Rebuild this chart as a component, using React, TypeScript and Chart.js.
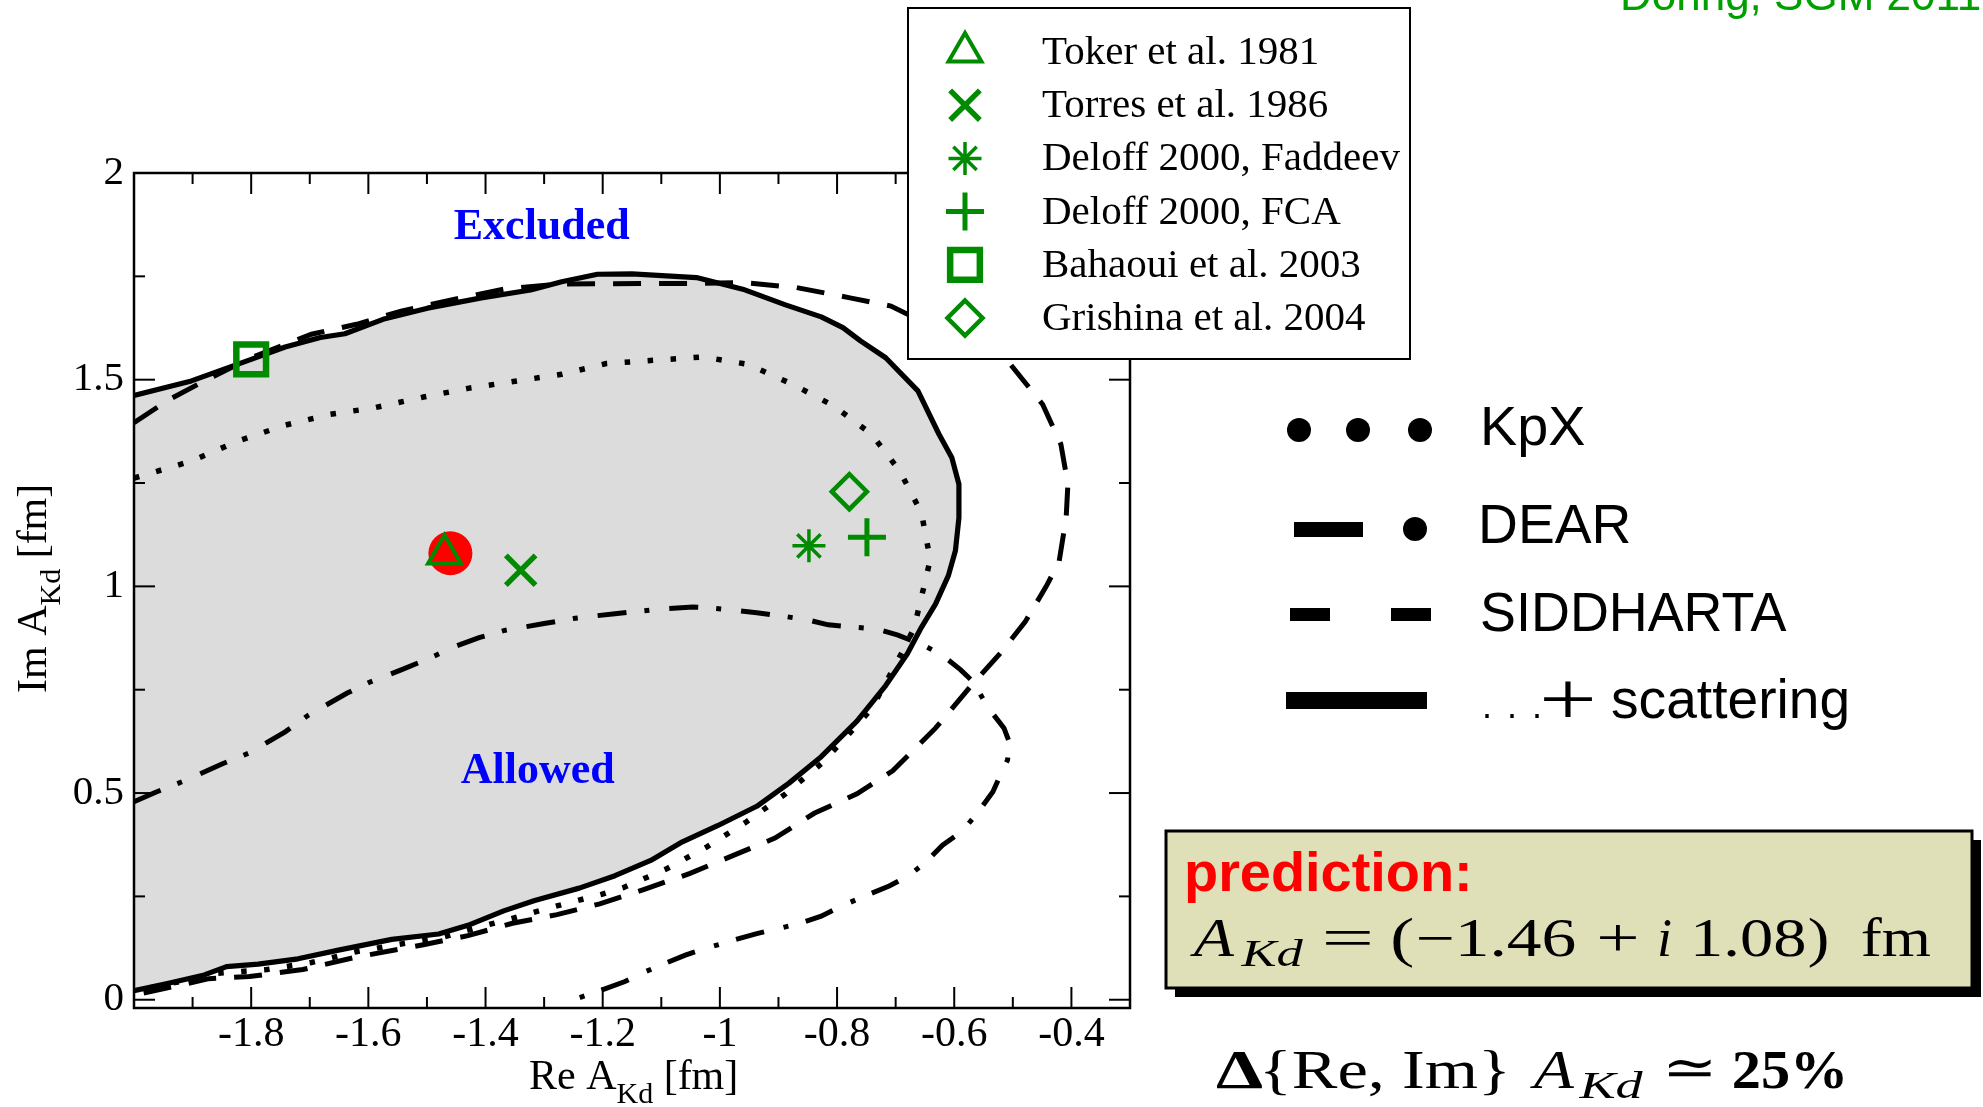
import React, { useEffect, useRef } from 'react';
import { Chart, registerables } from 'chart.js';

Chart.register(...registerables);

// ---------------- data ----------------
const X_RANGE = [-2, -0.3];
const Y_RANGE = [-0.02, 2];
const X_MAJOR = [-1.8, -1.6, -1.4, -1.2, -1.0, -0.8, -0.6, -0.4];
const X_MINOR = [-1.9, -1.7, -1.5, -1.3, -1.1, -0.9, -0.7, -0.5];
const Y_MAJOR = [0, 0.5, 1, 1.5, 2];
const Y_MINOR = [0.25, 0.75, 1.25, 1.75];

// "... + scattering" contour (solid, filled allowed region)
const SCATTERING = [
  [-2.0, 1.462], [-1.902, 1.497], [-1.8, 1.549], [-1.742, 1.579], [-1.682, 1.602], [-1.64, 1.611],
  [-1.575, 1.646], [-1.499, 1.673], [-1.407, 1.698], [-1.323, 1.717], [-1.27, 1.737], [-1.209, 1.755],
  [-1.15, 1.756], [-1.04, 1.747], [-0.961, 1.719], [-0.888, 1.681], [-0.827, 1.652], [-0.79, 1.626],
  [-0.76, 1.594], [-0.717, 1.553], [-0.662, 1.473], [-0.626, 1.368], [-0.604, 1.311], [-0.592, 1.247],
  [-0.592, 1.166], [-0.598, 1.086], [-0.61, 1.026], [-0.632, 0.957], [-0.656, 0.901], [-0.68, 0.837],
  [-0.717, 0.76], [-0.766, 0.674], [-0.827, 0.588], [-0.882, 0.524], [-0.937, 0.468], [-1.004, 0.421],
  [-1.064, 0.382], [-1.118, 0.337], [-1.179, 0.3], [-1.24, 0.27], [-1.316, 0.24], [-1.369, 0.215],
  [-1.43, 0.18], [-1.48, 0.159], [-1.56, 0.146], [-1.651, 0.12], [-1.72, 0.099], [-1.788, 0.086],
  [-1.842, 0.08], [-1.88, 0.06], [-1.941, 0.04], [-2.0, 0.022],
];

// SIDDHARTA contour (dashed)
const SIDDHARTA = [
  [-2.0, 1.396], [-1.94, 1.452], [-1.88, 1.497], [-1.8, 1.553], [-1.697, 1.61], [-1.62, 1.634],
  [-1.544, 1.666], [-1.468, 1.69], [-1.369, 1.719], [-1.278, 1.731], [-1.202, 1.732], [-1.049, 1.733],
  [-0.961, 1.735], [-0.87, 1.723], [-0.778, 1.698], [-0.708, 1.678], [-0.504, 1.537], [-0.449, 1.44],
  [-0.418, 1.344], [-0.406, 1.247], [-0.409, 1.166], [-0.421, 1.06], [-0.443, 1.0], [-0.479, 0.914],
  [-0.522, 0.837], [-0.571, 0.76], [-0.632, 0.657], [-0.705, 0.554], [-0.766, 0.498], [-0.839, 0.451],
  [-0.906, 0.391], [-0.979, 0.348], [-1.052, 0.305], [-1.129, 0.267], [-1.205, 0.232], [-1.278, 0.206],
  [-1.354, 0.185], [-1.43, 0.155], [-1.506, 0.133], [-1.621, 0.103], [-1.712, 0.073], [-1.803, 0.056],
  [-1.872, 0.051], [-1.925, 0.034], [-2.0, 0.011],
];

// KpX contour (dotted)
const KPX = [
  [-2.0, 1.262], [-1.902, 1.303], [-1.822, 1.352], [-1.742, 1.39], [-1.666, 1.416], [-1.59, 1.432],
  [-1.506, 1.458], [-1.43, 1.479], [-1.346, 1.497], [-1.27, 1.513], [-1.194, 1.539], [-1.113, 1.547],
  [-1.028, 1.555], [-0.952, 1.537], [-0.876, 1.489], [-0.805, 1.436], [-0.741, 1.368], [-0.693, 1.279],
  [-0.656, 1.178], [-0.641, 1.065], [-0.65, 1.009], [-0.659, 0.957], [-0.668, 0.901], [-0.687, 0.846],
  [-0.705, 0.798], [-0.741, 0.704], [-0.784, 0.636], [-0.827, 0.571], [-0.888, 0.498], [-0.955, 0.43],
  [-1.022, 0.37], [-1.089, 0.318], [-1.165, 0.271], [-1.202, 0.255], [-1.278, 0.227], [-1.354, 0.197],
  [-1.415, 0.174], [-1.476, 0.15], [-1.544, 0.135], [-1.621, 0.116], [-1.697, 0.09], [-1.773, 0.073],
  [-1.857, 0.064], [-1.925, 0.043], [-2.0, 0.021],
];

// DEAR contour (dash-dot)
const DEAR = [
  [-2.0, 0.479], [-1.963, 0.502], [-1.91, 0.532], [-1.849, 0.571], [-1.803, 0.597], [-1.742, 0.648],
  [-1.704, 0.687], [-1.636, 0.742], [-1.598, 0.768], [-1.544, 0.798], [-1.499, 0.824], [-1.453, 0.854],
  [-1.411, 0.876], [-1.369, 0.893], [-1.3, 0.91], [-1.247, 0.923], [-1.179, 0.934], [-1.102, 0.945],
  [-1.046, 0.95], [-1.01, 0.947], [-0.973, 0.942], [-0.937, 0.936], [-0.888, 0.927], [-0.851, 0.919],
  [-0.815, 0.907], [-0.769, 0.901], [-0.732, 0.897], [-0.696, 0.882], [-0.653, 0.858], [-0.62, 0.833],
  [-0.589, 0.798], [-0.567, 0.768], [-0.543, 0.708], [-0.515, 0.657], [-0.506, 0.623], [-0.509, 0.58],
  [-0.518, 0.554], [-0.534, 0.503], [-0.561, 0.451], [-0.586, 0.408], [-0.62, 0.374], [-0.65, 0.331],
  [-0.677, 0.301], [-0.711, 0.275], [-0.754, 0.25], [-0.79, 0.228], [-0.827, 0.202], [-0.863, 0.185],
  [-0.9, 0.172], [-0.937, 0.16], [-0.982, 0.142], [-1.022, 0.125], [-1.059, 0.108], [-1.095, 0.087],
  [-1.132, 0.065], [-1.162, 0.044], [-1.205, 0.022], [-1.25, 0.0],
];

// literature / prediction points
const PREDICTION = [[-1.46, 1.08]];
const TOKER = [[-1.47, 1.078]];
const TORRES = [[-1.34, 1.039]];
const DELOFF_FADDEEV = [[-0.848, 1.098]];
const DELOFF_FCA = [[-0.749, 1.119]];
const BAHAOUI = [[-1.8, 1.549]];
const GRISHINA = [[-0.779, 1.229]];

const REF_LABELS = [
  'Toker et al. 1981',
  'Torres et al. 1986',
  'Deloff 2000, Faddeev',
  'Deloff 2000, FCA',
  'Bahaoui et al. 2003',
  'Grishina et al. 2004',
];
const STYLE_LABELS = ['KpX', 'DEAR', 'SIDDHARTA', 'scattering'];

// ---------------- styles ----------------
const GREEN = '#008b00';
const GREY = '#dcdcdc';
const SERIF = '"Liberation Serif", "Times New Roman", serif';
const SANS = '"Liberation Sans", Arial, sans-serif';

const MARKERS = [
  { data: TOKER, style: 'triangle', r: 19, w: 4 },
  { data: TORRES, style: 'crossRot', r: 21, w: 5.5 },
  { data: DELOFF_FADDEEV, style: 'star', r: 16.5, w: 3.5 },
  { data: DELOFF_FCA, style: 'cross', r: 19, w: 5 },
  { data: BAHAOUI, style: 'rect', r: 21, w: 6.5 },
  { data: GRISHINA, style: 'rectRot', r: 17.5, w: 4.5 },
];

const toXY = (pts: number[][]) => pts.map(([x, y]) => ({ x, y }));
const fmt = (v: number) => String(Math.round(v * 10) / 10);

function drawMarker(ctx: CanvasRenderingContext2D, style: string, x: number, y: number, r: number, w: number) {
  ctx.save();
  ctx.strokeStyle = GREEN;
  ctx.lineWidth = w;
  ctx.beginPath();
  const q = Math.SQRT1_2 * r;
  if (style === 'triangle') {
    for (let i = 0; i < 3; i++) {
      const a = (i * 2 * Math.PI) / 3;
      const px = x + Math.sin(a) * r;
      const py = y - Math.cos(a) * r;
      if (i === 0) ctx.moveTo(px, py); else ctx.lineTo(px, py);
    }
    ctx.closePath();
  } else if (style === 'crossRot') {
    ctx.moveTo(x - q, y - q); ctx.lineTo(x + q, y + q);
    ctx.moveTo(x - q, y + q); ctx.lineTo(x + q, y - q);
  } else if (style === 'star') {
    ctx.moveTo(x, y - r); ctx.lineTo(x, y + r);
    ctx.moveTo(x - r, y); ctx.lineTo(x + r, y);
    ctx.moveTo(x - q, y - q); ctx.lineTo(x + q, y + q);
    ctx.moveTo(x - q, y + q); ctx.lineTo(x + q, y - q);
  } else if (style === 'cross') {
    ctx.moveTo(x, y - r); ctx.lineTo(x, y + r);
    ctx.moveTo(x - r, y); ctx.lineTo(x + r, y);
  } else if (style === 'rect') {
    ctx.rect(x - q, y - q, 2 * q, 2 * q);
  } else if (style === 'rectRot') {
    ctx.moveTo(x, y - r); ctx.lineTo(x + r, y); ctx.lineTo(x, y + r); ctx.lineTo(x - r, y);
    ctx.closePath();
  }
  ctx.stroke();
  ctx.restore();
}

// draw text so that its ink spans [x, x+width] (horizontal scaling), baseline y
function fitText(ctx: CanvasRenderingContext2D, text: string, x: number, y: number, width: number | null, font: string, color: string) {
  ctx.save();
  ctx.font = font;
  ctx.fillStyle = color;
  ctx.textAlign = 'left';
  ctx.textBaseline = 'alphabetic';
  const m = ctx.measureText(text);
  const ink = m.actualBoundingBoxLeft + m.actualBoundingBoxRight;
  const sx = width ? width / ink : 1;
  ctx.translate(x + m.actualBoundingBoxLeft * sx, y);
  ctx.scale(sx, 1);
  ctx.fillText(text, 0, 0);
  ctx.restore();
}

function drawAxisTitle(ctx: CanvasRenderingContext2D, main: string, sub: string, tail: string) {
  ctx.font = `42px ${SERIF}`;
  ctx.fillText(main, 0, 0);
  let w = ctx.measureText(main).width;
  ctx.font = `30px ${SERIF}`;
  ctx.fillText(sub, w, 14);
  w += ctx.measureText(sub).width;
  ctx.font = `42px ${SERIF}`;
  ctx.fillText(tail, w, 0);
}

const decorPlugin = {
  id: 'decor',
  afterDraw(chart: any) {
    const ctx: CanvasRenderingContext2D = chart.ctx;
    const { left, right, top, bottom } = chart.chartArea;
    const xs = chart.scales.x;
    const ys = chart.scales.y;
    ctx.save();

    // frame
    ctx.strokeStyle = '#000';
    ctx.lineWidth = 2.5;
    ctx.strokeRect(left, top, right - left, bottom - top);

    // inward ticks on all sides
    ctx.lineWidth = 2;
    const seg = (x1: number, y1: number, x2: number, y2: number) => {
      ctx.beginPath(); ctx.moveTo(x1, y1); ctx.lineTo(x2, y2); ctx.stroke();
    };
    const xt = (vals: number[], len: number) => vals.forEach((v) => {
      const p = xs.getPixelForValue(v);
      seg(p, bottom, p, bottom - len); seg(p, top, p, top + len);
    });
    const yt = (vals: number[], len: number) => vals.forEach((v) => {
      const p = ys.getPixelForValue(v);
      seg(left, p, left + len, p); seg(right, p, right - len, p);
    });
    xt(X_MAJOR, 21); xt(X_MINOR, 11);
    yt(Y_MAJOR, 21); yt(Y_MINOR, 11);

    // region labels
    ctx.fillStyle = '#0000ff';
    ctx.textAlign = 'center';
    ctx.textBaseline = 'alphabetic';
    ctx.font = `bold 44px ${SERIF}`;
    ctx.fillText('Excluded', xs.getPixelForValue(-1.304), ys.getPixelForValue(1.84));
    ctx.fillText('Allowed', xs.getPixelForValue(-1.311), ys.getPixelForValue(0.524));

    // axis titles
    ctx.fillStyle = '#000';
    ctx.textAlign = 'left';
    ctx.save();
    ctx.translate(529, 1089);
    drawAxisTitle(ctx, 'Re A', 'Kd', ' [fm]');
    ctx.restore();
    ctx.save();
    ctx.translate(46, 693);
    ctx.rotate(-Math.PI / 2);
    drawAxisTitle(ctx, 'Im A', 'Kd', ' [fm]');
    ctx.restore();

    // reference legend box
    const bx = 908, by = 8, bw = 502, bh = 351;
    ctx.fillStyle = '#fff';
    ctx.fillRect(bx, by, bw, bh);
    ctx.strokeStyle = '#000';
    ctx.lineWidth = 2;
    ctx.strokeRect(bx, by, bw, bh);
    REF_LABELS.forEach((label, i) => {
      const base = 64 + i * 53.2;
      const m = MARKERS[i];
      drawMarker(ctx, m.style, 965, base - 12, m.r, m.w);
      ctx.fillStyle = '#000';
      ctx.font = `41px ${SERIF}`;
      ctx.textAlign = 'left';
      ctx.fillText(label, 1042, base);
    });

    // line-style legend
    ctx.fillStyle = '#000';
    [1299, 1358, 1420].forEach((x) => { ctx.beginPath(); ctx.arc(x, 430, 12, 0, Math.PI * 2); ctx.fill(); });
    ctx.fillRect(1294, 522, 69, 15);
    ctx.beginPath(); ctx.arc(1415, 529, 12, 0, Math.PI * 2); ctx.fill();
    ctx.fillRect(1290, 608, 40, 13);
    ctx.fillRect(1391, 608, 40, 13);
    ctx.fillRect(1286, 692, 141, 17);
    fitText(ctx, STYLE_LABELS[0], 1484, 445, 101, `56px ${SANS}`, '#000');
    fitText(ctx, STYLE_LABELS[1], 1482, 543, 147, `56px ${SANS}`, '#000');
    fitText(ctx, STYLE_LABELS[2], 1482, 631, 305, `56px ${SANS}`, '#000');
    [1485, 1510, 1535].forEach((x) => fitText(ctx, '.', x, 718, null, `36px ${SANS}`, '#000'));
    fitText(ctx, '+', 1543, 724, 50, `76px ${SERIF}`, '#000');
    fitText(ctx, STYLE_LABELS[3], 1612, 718, 235, `56px ${SANS}`, '#000');

    // prediction box
    ctx.fillStyle = '#000';
    ctx.fillRect(1175, 840, 806, 157);
    ctx.fillStyle = '#dfdfb8';
    ctx.fillRect(1166, 831, 806, 157);
    ctx.strokeStyle = '#000';
    ctx.lineWidth = 3;
    ctx.strokeRect(1166, 831, 806, 157);
    fitText(ctx, 'prediction:', 1187, 891, 281, `bold 56px ${SANS}`, '#ff0000');
    const mi = `italic 54px ${SERIF}`;
    const mr = `54px ${SERIF}`;
    fitText(ctx, 'A', 1190, 956, 45, mi, '#000');
    fitText(ctx, 'Kd', 1240, 966, 64, `italic 38px ${SERIF}`, '#000');
    fitText(ctx, '=', 1325, 956, 45, mr, '#000');
    fitText(ctx, '(', 1393, 956, 20, mr, '#000');
    fitText(ctx, '\u22121.46', 1418, 956, 157, mr, '#000');
    fitText(ctx, '+', 1599, 956, 37, mr, '#000');
    fitText(ctx, 'i', 1660, 956, null, mi, '#000');
    fitText(ctx, '1.08', 1695, 956, 109, mr, '#000');
    fitText(ctx, ')', 1809, 956, 18, mr, '#000');
    fitText(ctx, 'fm', 1862, 956, 69, mr, '#000');

    // uncertainty formula
    fitText(ctx, '\u0394', 1216, 1088, 46, `bold 54px ${SERIF}`, '#000');
    fitText(ctx, '{Re, Im}', 1264, 1088, 242, mr, '#000');
    fitText(ctx, 'A', 1530, 1088, 45, mi, '#000');
    fitText(ctx, 'Kd', 1578, 1098, 66, `italic 38px ${SERIF}`, '#000');
    fitText(ctx, '\u2243', 1668, 1086, 43, `54px "DejaVu Serif", serif`, '#000');
    fitText(ctx, '25%', 1734, 1088, 109, `bold 54px ${SERIF}`, '#000');

    // header
    ctx.fillStyle = '#00a000';
    ctx.font = `44px ${SANS}`;
    ctx.textAlign = 'left';
    ctx.textBaseline = 'alphabetic';
    ctx.fillText('D\u00f6ring, SGM 2011', 1620, 10);

    ctx.restore();
  },
};

export default function App() {
  const ref = useRef<HTMLCanvasElement>(null);
  useEffect(() => {
    document.body.style.margin = '0';
    const markerSets = MARKERS.map((m) => ({
      data: toXY(m.data),
      showLine: false,
      pointStyle: m.style,
      pointRadius: m.r,
      pointBorderWidth: m.w,
      pointBorderColor: GREEN,
      pointBackgroundColor: 'rgba(0,0,0,0)',
      order: 0,
    }));
    const curve = (pts: number[][], dash: number[], width: number) => ({
      data: toXY(pts),
      borderColor: '#000',
      borderWidth: width,
      borderDash: dash,
      borderCapStyle: 'butt',
      pointRadius: 0,
      fill: false,
      tension: 0,
      order: 2,
    });
    const chart = new Chart(ref.current as HTMLCanvasElement, {
      type: 'line',
      data: {
        datasets: [
          ...markerSets,
          {
            data: toXY(PREDICTION),
            showLine: false,
            pointStyle: 'circle',
            pointRadius: 22,
            pointBorderWidth: 0,
            pointBackgroundColor: '#ff0000',
            pointBorderColor: '#ff0000',
            order: 1,
          },
          curve(KPX, [5.5, 17.5], 5.5),
          curve(DEAR, [29, 18, 5, 20], 5),
          curve(SIDDHARTA, [28, 18], 5),
          {
            data: toXY(SCATTERING),
            borderColor: '#000',
            borderWidth: 5.2,
            borderJoinStyle: 'round',
            backgroundColor: GREY,
            fill: 'shape',
            pointRadius: 0,
            tension: 0,
            order: 3,
          },
        ] as any,
      },
      options: {
        responsive: false,
        devicePixelRatio: 1,
        animation: false,
        events: [],
        layout: { padding: { left: 34, top: 173, right: 853, bottom: 39 } },
        plugins: { legend: { display: false }, tooltip: { enabled: false } },
        scales: {
          x: {
            type: 'linear',
            min: X_RANGE[0],
            max: X_RANGE[1],
            grid: { display: false, drawTicks: false },
            border: { display: false },
            ticks: {
              font: { family: SERIF, size: 42 },
              color: '#000',
              padding: 2,
              autoSkip: false,
              maxRotation: 0,
              callback: (v: any) => fmt(Number(v)),
            },
            afterBuildTicks: (s: any) => { s.ticks = X_MAJOR.map((value) => ({ value })); },
            afterFit: (s: any) => { s.height = 60; },
          },
          y: {
            type: 'linear',
            min: Y_RANGE[0],
            max: Y_RANGE[1],
            grid: { display: false, drawTicks: false },
            border: { display: false },
            ticks: {
              font: { family: SERIF, size: 41 },
              color: '#000',
              padding: 10,
              autoSkip: false,
              callback: (v: any) => fmt(Number(v)),
            },
            afterBuildTicks: (s: any) => { s.ticks = Y_MAJOR.map((value) => ({ value })); },
            afterFit: (s: any) => { s.width = 100; },
          },
        },
      } as any,
      plugins: [decorPlugin],
    });
    return () => chart.destroy();
  }, []);
  return (
    <div style={{ position: 'absolute', left: 0, top: 0, width: 1983, height: 1107, background: '#fff', overflow: 'hidden' }}>
      <canvas ref={ref} width={1983} height={1107} style={{ width: 1983, height: 1107, display: 'block' }} />
    </div>
  );
}
